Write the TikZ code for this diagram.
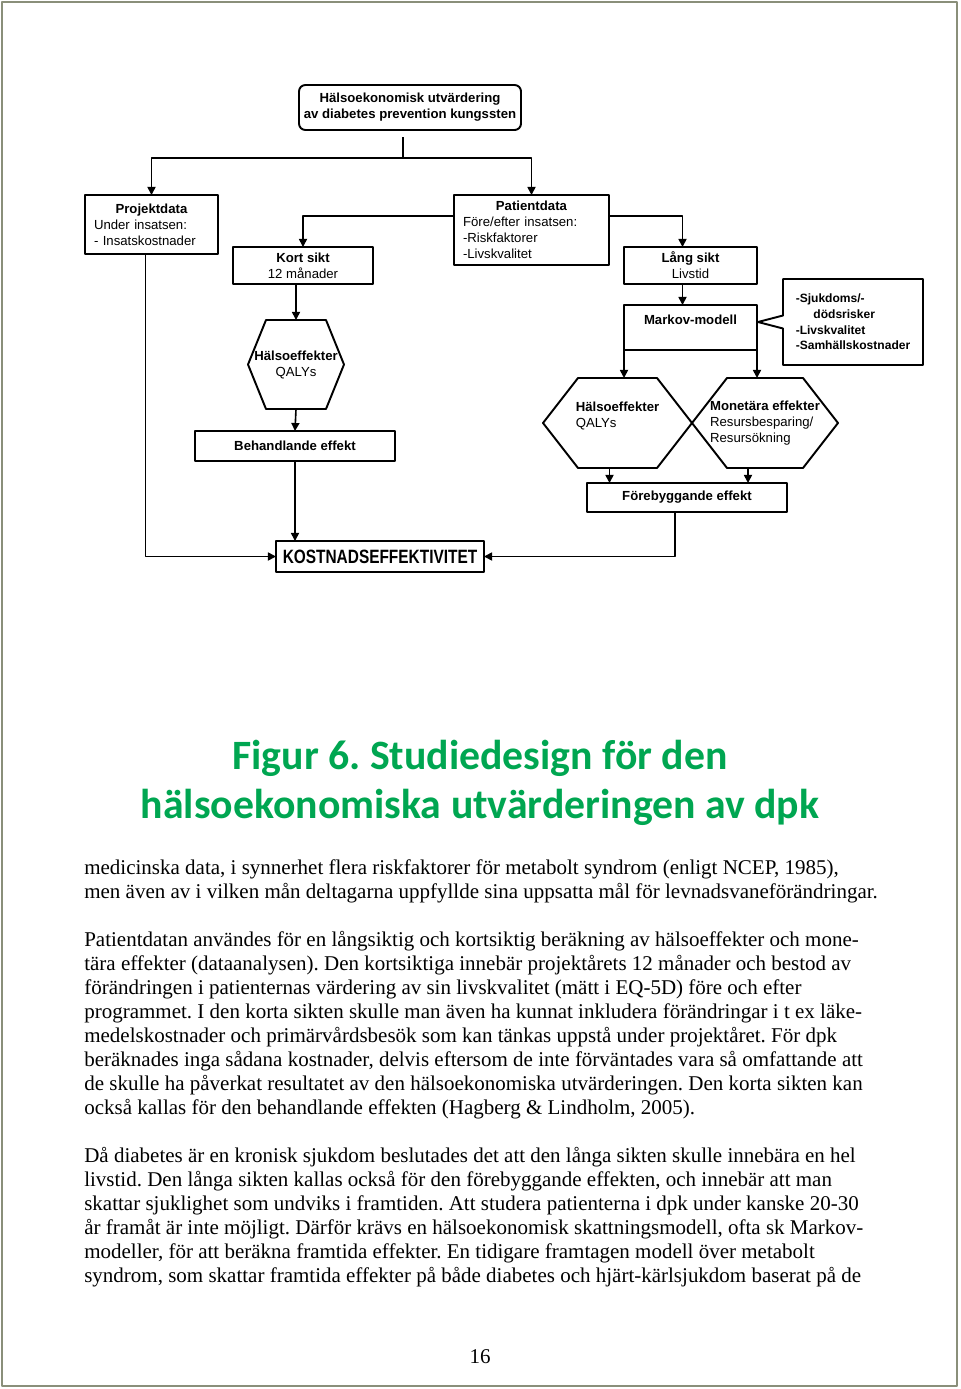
\documentclass[tikz,border=0pt]{standalone}
\usepackage{fontspec}
\usepackage{graphicx}
\setmainfont{Liberation Serif}
\newfontfamily\diagfont{Liberation Sans}
\newfontfamily\titlefont{Carlito}
\usetikzlibrary{arrows.meta,calc,positioning,shapes.callouts}
\definecolor{titlegreen}{RGB}{0,166,81}
\definecolor{pageframe}{RGB}{138,143,122}
\def\pu{0.6225pt}
\frenchspacing
\tikzset{
  box/.style={draw,line width=1.2pt,inner sep=0pt,outer sep=0pt,font=\diagfont\fontsize{8.2}{10}\selectfont},
  hexa/.style={inner sep=0pt,outer sep=0pt,font=\diagfont\fontsize{8.2}{10}\selectfont},
  conn/.style={line width=1pt},
  arr/.style={line width=1pt,-{Triangle[length=5pt,width=5pt]}},
  titletext/.style={anchor=base,inner sep=0pt,text=titlegreen,font=\titlefont\fontsize{26}{30}\selectfont\bfseries},
  bodyline/.style={anchor=base west,inner sep=0pt,font=\fontsize{13.07}{15}\selectfont},
}
\newcommand\hexoutline[2]{\draw[line width=1.2pt] (#1.west) -- ($(#1.north west)+(#2,0)$) -- ($(#1.north east)+(-#2,0)$) -- (#1.east) -- ($(#1.south east)+(-#2,0)$) -- ($(#1.south west)+(#2,0)$) -- cycle;}

\begin{document}
\begin{tikzpicture}[x=\pu,y=-\pu,line join=round]
\useasboundingbox (0,0) rectangle (960,1389);
\draw[pageframe,line width=1.25pt] (2,2) rectangle (957,1386);

% --- flow chart
\node[box,rounded corners=4pt,minimum width=222*\pu,minimum height=45*\pu,align=center] (top) at (410,107.5) {\textbf{Hälsoekonomisk utvärdering}\\\textbf{av diabetes prevention kungssten}};
\node[box,minimum width=133*\pu,minimum height=59*\pu,text width=115*\pu,align=left] (proj) at (151.5,224.5) {\hspace*{\fill}\textbf{Projektdata}\hspace*{\fill}\mbox{}\\Under insatsen:\\- Insatskostnader};
\node[box,minimum width=155*\pu,minimum height=70*\pu,text width=137*\pu,align=left] (pat) at (531.5,230) {\hspace*{\fill}\textbf{Patientdata}\hspace*{\fill}\mbox{}\\Före/efter insatsen:\\-Riskfaktorer\\-Livskvalitet};
\node[box,minimum width=140*\pu,minimum height=37*\pu,align=center] (kort) at (303,265.5) {\textbf{Kort sikt}\\12 månader};
\node[box,minimum width=133*\pu,minimum height=37*\pu,align=center] (lang) at (690.5,265.5) {\textbf{Lång sikt}\\Livstid};
\node[box,minimum width=133*\pu,minimum height=45*\pu,align=center] (markov) at (690.5,327.5) {\textbf{Markov-modell}\\~};
\node[box,rectangle callout,callout absolute pointer={($(markov.east)+(1,-5.5)$)},callout pointer width=13*\pu,minimum width=140*\pu,minimum height=86*\pu,align=left,font=\diagfont\fontsize{7.5}{9.7}\selectfont\bfseries] (risk) at (853,322) {-Sjukdoms/-\\\hspace*{11pt}dödsrisker\\-Livskvalitet\\-Samhällskostnader};

\node[hexa,minimum width=96*\pu,minimum height=89*\pu,align=center] (hexA) at (296,364.5) {\textbf{Hälsoeffekter}\\QALYs};
\hexoutline{hexA}{18}
\node[hexa,minimum width=149*\pu,minimum height=90*\pu,align=left] (hexB) at (617.5,423) {\textbf{Hälsoeffekter}\\QALYs\\~};
\hexoutline{hexB}{35}
\node[hexa,minimum width=146*\pu,minimum height=90*\pu,align=left] (hexC) at (765,423) {\textbf{Monetära effekter}\\Resursbesparing/\\Resursökning};
\hexoutline{hexC}{35}

\node[box,minimum width=200*\pu,minimum height=30*\pu] (beh) at (295,446) {\textbf{Behandlande effekt}};
\node[box,minimum width=200*\pu,minimum height=29*\pu] (fore) at (687,497.5) {\textbf{Förebyggande effekt}};
\node[box,minimum width=208*\pu,minimum height=31*\pu,font=\diagfont\fontsize{12}{14}\selectfont\bfseries] (kost) at (380,556.5) {\scalebox{0.8}[1]{KOSTNADSEFFEKTIVITET}};

% --- connectors
\coordinate (fork) at ($(top.south)+(-7,28)$);
\draw[conn] ($(top.south)+(-7,7)$) -- (fork);
\draw[arr] (fork) -| (proj.north);
\draw[arr] (fork) -| (pat.north);
\draw[arr] ($(pat.north west)+(0,21)$) -| (kort.north);
\coordinate (langin) at ($(lang.north)+(-8,0)$);
\draw[arr] ($(pat.north east)+(0,21)$) -| (langin);
\draw[arr] ($(lang.south)+(-8,0)$) -- ($(markov.north)+(-8,0)$);
\draw[arr] (markov.south west) -- (markov.south west |- hexB.north);
\draw[arr] (markov.south east) -- (markov.south east |- hexC.north);
\draw[arr] (hexA.north |- kort.south) -- (hexA.north);
\draw[arr] (hexA.south) -- (beh.north);
\draw[arr] (beh.south) -- (beh.south |- kost.north);
\coordinate (hbout) at ($(hexB.south)+(-8,0)$);
\draw[arr] (hbout) -- (hbout |- fore.north);
\coordinate (hcout) at ($(hexC.south)+(-17,0)$);
\draw[arr] (hcout) -- (hcout |- fore.north);
\coordinate (fout) at ($(fore.south)+(-12,0)$);
\draw[arr] (fout) |- (kost.east);
\coordinate (pout) at ($(proj.south)+(-6,0)$);
\draw[arr] (pout) |- (kost.west);

% --- caption
\node[titletext] (t1) at (480,769) {Figur 6. Studiedesign för den};
\node[titletext] (t2) at (480,818) {hälsoekonomiska utvärderingen av dpk};

% --- body text
\node[bodyline] (l1) at (84,874) {medicinska data, i synnerhet flera riskfaktorer för metabolt syndrom (enligt NCEP, 1985),};
\node[bodyline] (l2) at (84,898) {men även av i vilken mån deltagarna uppfyllde sina uppsatta mål för levnadsvaneförändringar.};
\node[bodyline] (l3) at (84,946) {Patientdatan användes för en långsiktig och kortsiktig beräkning av hälsoeffekter och mone-};
\node[bodyline] (l4) at (84,970) {tära effekter (dataanalysen). Den kortsiktiga innebär projektårets 12 månader och bestod av};
\node[bodyline] (l5) at (84,994) {förändringen i patienternas värdering av sin livskvalitet (mätt i EQ-5D) före och efter};
\node[bodyline] (l6) at (84,1018) {programmet. I den korta sikten skulle man även ha kunnat inkludera förändringar i t ex läke-};
\node[bodyline] (l7) at (84,1042) {medelskostnader och primärvårdsbesök som kan tänkas uppstå under projektåret. För dpk};
\node[bodyline] (l8) at (84,1066) {beräknades inga sådana kostnader, delvis eftersom de inte förväntades vara så omfattande att};
\node[bodyline] (l9) at (84,1090) {de skulle ha påverkat resultatet av den hälsoekonomiska utvärderingen. Den korta sikten kan};
\node[bodyline] (l10) at (84,1114) {också kallas för den behandlande effekten (Hagberg \& Lindholm, 2005).};
\node[bodyline] (l11) at (84,1162) {Då diabetes är en kronisk sjukdom beslutades det att den långa sikten skulle innebära en hel};
\node[bodyline] (l12) at (84,1186) {livstid. Den långa sikten kallas också för den förebyggande effekten, och innebär att man};
\node[bodyline] (l13) at (84,1210) {skattar sjuklighet som undviks i framtiden. Att studera patienterna i dpk under kanske 20-30};
\node[bodyline] (l14) at (84,1234) {år framåt är inte möjligt. Därför krävs en hälsoekonomisk skattningsmodell, ofta sk Markov-};
\node[bodyline] (l15) at (84,1258) {modeller, för att beräkna framtida effekter. En tidigare framtagen modell över metabolt};
\node[bodyline] (l16) at (84,1282) {syndrom, som skattar framtida effekter på både diabetes och hjärt-kärlsjukdom baserat på de};
\node[anchor=base,inner sep=0pt,font=\fontsize{13.07}{15}\selectfont] (pagenum) at (480,1363) {16};
\end{tikzpicture}
\end{document}
